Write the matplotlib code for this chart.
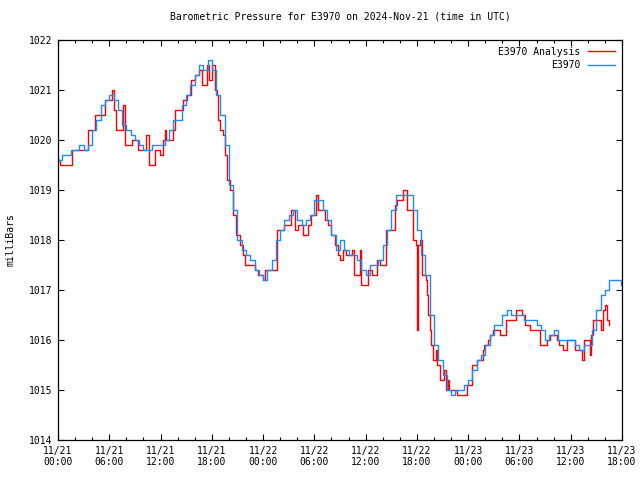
import datetime as dt
import matplotlib
matplotlib.use("Agg")
import matplotlib.pyplot as plt
import matplotlib.dates as mdates

# ---- data (hours after 2024-11-21 00:00 UTC, pressure in mb) ----
blue_hours = [0.0, 0.5, 1.0, 1.5, 2.0, 2.5, 3.0, 3.5, 4.0, 4.5, 5.0, 5.5, 6.0, 6.5,
              7.0, 7.5, 8.0, 8.5, 9.0, 9.5, 10.0, 10.5, 11.0, 11.5, 12.0, 12.5, 13.0,
              13.5, 14.0, 14.5, 15.0, 15.5, 16.0, 16.5, 17.0, 17.5, 18.0, 18.5, 19.0,
              19.5, 20.0, 20.5, 21.0, 21.5, 22.0, 22.5, 23.0, 23.5, 24.0, 24.5, 25.0,
              25.5, 26.0, 26.5, 27.0, 27.5, 28.0, 28.5, 29.0, 29.5, 30.0, 30.5, 31.0,
              31.5, 32.0, 32.5, 33.0, 33.5, 34.0, 34.5, 35.0, 35.5, 36.0, 36.5, 37.0,
              37.5, 38.0, 38.5, 39.0, 39.5, 40.0, 40.5, 41.0, 41.5, 42.0, 42.5, 43.0,
              43.5, 44.0, 44.5, 45.0, 45.5, 46.0, 46.5, 47.0, 47.5, 48.0, 48.5, 49.0,
              49.5, 50.0, 50.5, 51.0, 51.5, 52.0, 52.5, 53.0, 53.5, 54.0, 54.5, 55.0,
              55.5, 56.0, 56.5, 57.0, 57.5, 58.0, 58.5, 59.0, 59.5, 60.0, 60.5, 61.0,
              61.5, 62.0, 62.5, 63.0, 63.5, 64.0, 64.5, 65.0, 65.5, 65.9]
blue_p = [1019.6, 1019.7, 1019.7, 1019.8, 1019.8, 1019.9, 1019.8, 1019.9, 1020.2, 1020.4,
          1020.7, 1020.8, 1020.9, 1020.8, 1020.6, 1020.3, 1020.2, 1020.1, 1020.0, 1019.9,
          1019.8, 1019.8, 1019.9, 1019.9, 1019.9, 1020.0, 1020.2, 1020.4, 1020.4, 1020.7,
          1020.9, 1021.1, 1021.3, 1021.5, 1021.4, 1021.6, 1021.4, 1020.9, 1020.5, 1019.9,
          1019.1, 1018.6, 1018.0, 1017.8, 1017.7, 1017.6, 1017.4, 1017.3, 1017.2, 1017.4,
          1017.6, 1018.0, 1018.2, 1018.4, 1018.5, 1018.6, 1018.4, 1018.3, 1018.4, 1018.5,
          1018.8, 1018.8, 1018.6, 1018.4, 1018.1, 1017.8, 1018.0, 1017.8, 1017.7, 1017.7,
          1017.6, 1017.4, 1017.3, 1017.5, 1017.5, 1017.6, 1017.9, 1018.2, 1018.6, 1018.9,
          1018.9, 1018.9, 1018.9, 1018.6, 1018.2, 1017.7, 1017.3, 1016.5, 1015.9, 1015.6,
          1015.3, 1015.0, 1014.9, 1015.0, 1015.0, 1015.1, 1015.2, 1015.4, 1015.6, 1015.7,
          1015.9, 1016.1, 1016.3, 1016.3, 1016.5, 1016.6, 1016.5, 1016.5, 1016.5, 1016.4,
          1016.4, 1016.4, 1016.3, 1016.2, 1016.0, 1016.1, 1016.2, 1016.0, 1016.0, 1016.0,
          1016.0, 1015.9, 1015.8, 1015.9, 1015.9, 1016.2, 1016.6, 1016.9, 1017.0, 1017.2,
          1017.2, 1017.2, 1017.1]

red_hours = [0.0, 0.2, 1.6, 3.5, 4.3, 5.5, 6.3, 6.6, 6.8, 7.6, 7.8, 8.7, 9.4, 10.3, 10.6,
             11.3, 11.9, 12.3, 12.5, 12.6, 13.5, 13.7, 14.6, 15.1, 15.6, 16.0, 16.5, 16.8,
             17.4, 17.7, 18.0, 18.4, 18.6, 18.7, 19.0, 19.3, 19.5, 19.8, 20.1, 20.5, 20.8,
             21.3, 21.7, 21.9, 22.7, 23.1, 23.4, 24.0, 24.2, 25.6, 26.4, 27.3, 27.7, 28.1,
             28.7, 29.3, 29.6, 30.2, 30.4, 31.3, 31.6, 32.0, 32.4, 32.8, 33.0, 33.3, 33.7,
             34.4, 34.6, 35.3, 35.5, 36.3, 36.7, 37.3, 37.7, 38.4, 39.4, 39.7, 40.4, 40.8,
             41.5, 41.9, 42.0, 42.1, 42.4, 42.6, 43.1, 43.2, 43.3, 43.5, 43.7, 43.9, 44.2,
             44.4, 44.7, 45.2, 45.4, 45.6, 45.8, 46.3, 46.7, 47.6, 47.9, 48.5, 49.0, 49.7,
             49.9, 50.3, 50.6, 50.9, 51.7, 52.4, 53.6, 54.3, 54.7, 55.2, 56.4, 57.2, 57.6,
             58.4, 58.6, 59.1, 59.6, 60.5, 61.3, 61.6, 62.2, 62.4, 62.6, 63.6, 63.8, 64.0,
             64.2, 64.5]
red_p = [1019.6, 1019.5, 1019.8, 1020.2, 1020.5, 1020.8, 1021.0, 1020.6, 1020.2, 1020.7,
         1019.9, 1020.0, 1019.8, 1020.1, 1019.5, 1019.8, 1019.7, 1020.0, 1020.2, 1020.0,
         1020.2, 1020.6, 1020.8, 1020.9, 1021.2, 1021.3, 1021.4, 1021.1, 1021.5, 1021.2,
         1021.5, 1021.0, 1020.9, 1020.4, 1020.2, 1020.1, 1019.7, 1019.2, 1019.0, 1018.5,
         1018.1, 1017.9, 1017.7, 1017.5, 1017.5, 1017.4, 1017.3, 1017.2, 1017.4, 1018.2,
         1018.3, 1018.6, 1018.2, 1018.3, 1018.1, 1018.3, 1018.5, 1018.9, 1018.6, 1018.4,
         1018.3, 1018.1, 1017.9, 1017.7, 1017.6, 1017.8, 1017.7, 1017.8, 1017.3, 1017.8,
         1017.1, 1017.4, 1017.3, 1017.6, 1017.5, 1018.2, 1018.7, 1018.8, 1019.0, 1018.6,
         1018.0, 1017.9, 1016.2, 1017.9, 1018.0, 1017.3, 1017.2, 1016.9, 1016.5, 1016.2,
         1015.9, 1015.6, 1015.8, 1015.5, 1015.2, 1015.4, 1015.0, 1015.2, 1015.0, 1015.0,
         1014.9, 1014.9, 1015.1, 1015.5, 1015.6, 1015.8, 1015.9, 1016.0, 1016.1, 1016.2,
         1016.1, 1016.4, 1016.6, 1016.5, 1016.3, 1016.2, 1015.9, 1016.0, 1016.1, 1016.0,
         1015.9, 1015.8, 1016.0, 1015.8, 1015.6, 1016.0, 1015.7, 1016.1, 1016.4, 1016.2,
         1016.6, 1016.7, 1016.4, 1016.3]

y_ticks = [1014, 1015, 1016, 1017, 1018, 1019, 1020, 1021, 1022]
title = "Barometric Pressure for E3970 on 2024-Nov-21 (time in UTC)"
series_names = ["E3970 Analysis", "E3970"]

base = dt.datetime(2024, 11, 21)
blue_t = [base + dt.timedelta(hours=h) for h in blue_hours]
red_t = [base + dt.timedelta(hours=h) for h in red_hours]

FONT = "DejaVu Sans Mono"
FS = 7
plt.rcParams["font.family"] = FONT

fig = plt.figure(figsize=(6.4, 4.8), dpi=100)
ax = fig.add_axes([58 / 640, 40 / 480, 564 / 640, 400 / 480])

ax.plot(red_t, red_p, drawstyle="steps-post", color="#ff0000", lw=1.0, label=series_names[0])
ax.plot(blue_t, blue_p, drawstyle="steps-post", color="#1a8cff", lw=1.0, label=series_names[1])

ax.set_xlim(base, base + dt.timedelta(hours=66))
ax.set_ylim(1014, 1022)
ax.set_yticks(y_ticks)
ax.xaxis.set_major_locator(mdates.HourLocator(byhour=range(0, 24, 6)))
ax.xaxis.set_minor_locator(mdates.HourLocator(interval=2))
ax.xaxis.set_major_formatter(mdates.DateFormatter("%m/%d\n%H:%M"))

ax.tick_params(which="both", direction="in", top=True, right=True, labelsize=FS, width=0.8)
ax.tick_params(which="major", length=4, pad=4)
ax.tick_params(which="minor", length=2)
for s in ax.spines.values():
    s.set_linewidth(0.9)

ax.set_title(title, fontsize=FS, pad=15)
ax.set_ylabel("milliBars", fontsize=FS, labelpad=10)

ax.legend(loc="upper right", frameon=False, markerfirst=False, fontsize=FS,
          handlelength=2.8, handletextpad=0.8, borderaxespad=0.3, labelspacing=0.35)

fig.savefig("out.png", dpi=100)
